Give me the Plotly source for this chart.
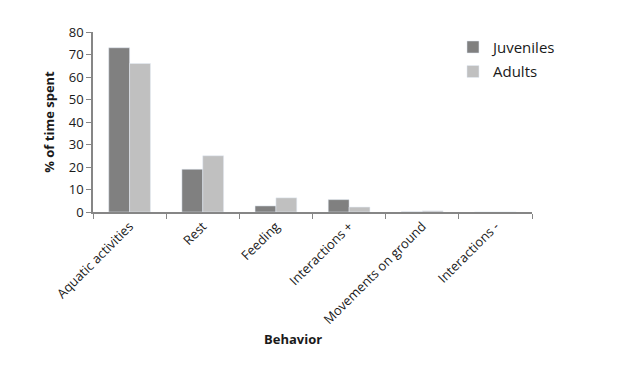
import plotly.graph_objects as go

categories = ["Aquatic activities", "Rest", "Feeding", "Interactions +", "Movements on ground", "Interactions -"]
juveniles = [73, 19, 2.7, 5.5, 0.1, 0]
adults = [66, 25, 6.3, 2.2, 0.5, 0]
y_ticks = [0, 10, 20, 30, 40, 50, 60, 70, 80]

fig = go.Figure()
fig.add_trace(go.Bar(x=categories, y=juveniles, name="Juveniles", marker_color="#808080", legendgroup="j"))
fig.add_trace(go.Bar(x=categories, y=adults, name="Adults", marker_color="#c0c0c0", legendgroup="a"))

font_family = "Open Sans, Liberation Sans, sans-serif"
fig.update_layout(
    width=611, height=384,
    margin=dict(l=85, r=87, t=24, b=180),
    paper_bgcolor="white", plot_bgcolor="white",
    barmode="group", bargap=0.43, bargroupgap=0,
    font=dict(family=font_family, size=12, color="#1a1a1a"),
    showlegend=True,
    legend=dict(x=0.82, y=1.007, xanchor="left", yanchor="top",
                font=dict(size=15), bgcolor="rgba(0,0,0,0)",
                itemwidth=30, tracegroupgap=2),
    annotations=[dict(text="<b>Behavior</b>", x=0.455, y=-0.706, xref="paper", yref="paper",
                      xanchor="center", yanchor="middle", showarrow=False, font=dict(size=13))],
)
fig.update_xaxes(
    type="category", tickangle=-45, tickson="boundaries",
    ticks="outside", ticklen=5, tickcolor="#868686",
    showline=True, linecolor="#868686", linewidth=1.5,
    showgrid=False, tickfont=dict(size=13),
)
fig.update_yaxes(
    range=[0, 80], tickvals=y_ticks, ticks="outside", ticklen=5, tickcolor="#868686",
    showline=True, linecolor="#868686", linewidth=1.5, showgrid=False, zeroline=False,
    tickfont=dict(size=13),
    title=dict(text="<b>% of time spent</b>", font=dict(size=13), standoff=11),
)
fig.write_html("out.html")
